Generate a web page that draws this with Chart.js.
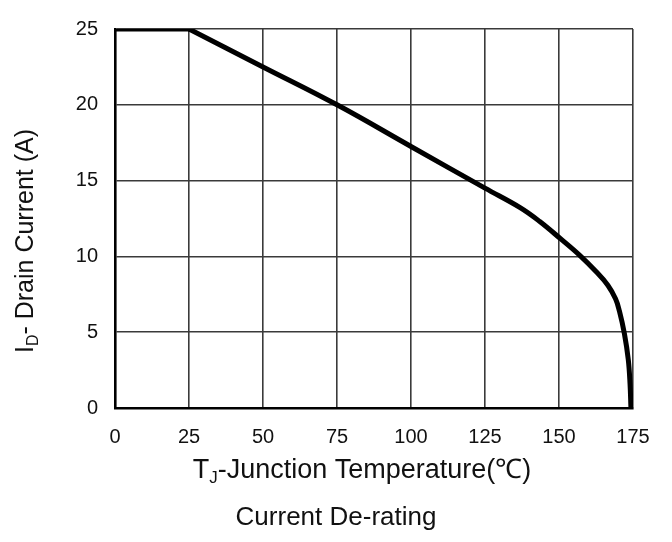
<!DOCTYPE html>
<html>
<head>
<meta charset="utf-8">
<title>Current De-rating</title>
<script src="https://cdn.jsdelivr.net/npm/chart.js@4.4.1/dist/chart.umd.min.js"></script>
<style>
  html, body { margin: 0; padding: 0; background: #fff; }
  #wrap { width: 672px; height: 542px; }
</style>
</head>
<body>
<div id="wrap"><canvas id="derating" width="672" height="542"></canvas></div>
<script>
// flat part: rated current up to 25 °C
const flatTemp = [0, 25];
const flatCurrent = [25, 25];

// de-rating curve
const curveTemp = [25, 50, 75, 100, 125, 137, 143.5, 150.6, 157.1, 162.5, 166.5, 169.1, 170.4, 172.1, 173.4, 174.0, 174.3];
const curveCurrent = [25, 22.5, 20.0, 17.25, 14.5, 13.2, 12.3, 11.15, 10.05, 9.0, 8.1, 7.2, 6.4, 4.9, 3.2, 1.6, 0];

const xTicks = [0, 25, 50, 75, 100, 125, 150, 175];
const yTicks = [0, 5, 10, 15, 20, 25];

const FONT = 'Arial, "Liberation Sans", sans-serif';

const toPoints = (xs, ys) => xs.map((x, i) => ({ x: x, y: ys[i] }));

// draws "main" + subscript + "rest" centred on (0,0) of the current transform
function drawSubText(ctx, main, sub, rest, size) {
    const subSize = Math.round(size * 0.62);
    ctx.font = size + 'px ' + FONT;
    const w1 = ctx.measureText(main).width;
    const w3 = ctx.measureText(rest).width;
    ctx.font = subSize + 'px ' + FONT;
    const w2 = ctx.measureText(sub).width;
    let x = -(w1 + w2 + w3) / 2;
    ctx.textAlign = 'left';
    ctx.textBaseline = 'alphabetic';
    ctx.font = size + 'px ' + FONT;
    ctx.fillText(main, x, 0);
    x += w1;
    ctx.font = subSize + 'px ' + FONT;
    ctx.fillText(sub, x, size * 0.2);
    x += w2;
    ctx.font = size + 'px ' + FONT;
    ctx.fillText(rest, x, 0);
}

const titlesPlugin = {
    id: 'titles',
    afterDraw(chart) {
        const ctx = chart.ctx;
        ctx.save();
        ctx.fillStyle = '#111';

        // y axis title, rotated
        ctx.save();
        ctx.translate(33, 241);
        ctx.rotate(-Math.PI / 2);
        drawSubText(ctx, 'I', 'D', '- Drain Current (A)', 25);
        ctx.restore();

        // x axis title
        ctx.save();
        ctx.translate(362, 478);
        drawSubText(ctx, 'T', 'J', '-Junction Temperature(\u2103)', 27);
        ctx.restore();

        // caption
        ctx.font = '26px ' + FONT;
        ctx.textAlign = 'center';
        ctx.textBaseline = 'alphabetic';
        ctx.fillText('Current De-rating', 336, 525);

        ctx.restore();
    }
};

document.addEventListener('DOMContentLoaded', () => {
    const ctx = document.getElementById('derating').getContext('2d');

    new Chart(ctx, {
        type: 'line',
        data: {
            datasets: [
                {
                    label: 'flat',
                    data: toPoints(flatTemp, flatCurrent),
                    borderColor: '#000',
                    borderWidth: 5,
                    pointRadius: 0,
                    borderCapStyle: 'butt',
                    fill: false
                },
                {
                    label: 'derating',
                    data: toPoints(curveTemp, curveCurrent),
                    borderColor: '#000',
                    borderWidth: 5,
                    pointRadius: 0,
                    tension: 0.4,
                    fill: false
                }
            ]
        },
        options: {
            responsive: false,
            animation: false,
            events: [],
            layout: { padding: { left: 0, top: 12, right: 39, bottom: 0 } },
            plugins: {
                legend: { display: false },
                tooltip: { enabled: false }
            },
            scales: {
                x: {
                    type: 'linear',
                    min: 0,
                    max: 175,
                    afterBuildTicks: s => { s.ticks = xTicks.map(v => ({ value: v })); },
                    afterFit: s => { s.height = 134; },
                    grid: { color: '#3a3a3a', lineWidth: 1.6, drawTicks: false },
                    border: { color: '#000', width: 2.6 },
                    ticks: { color: '#111', padding: 17, maxRotation: 0, font: { family: FONT, size: 20 } }
                },
                y: {
                    type: 'linear',
                    min: 0,
                    max: 25,
                    afterBuildTicks: s => { s.ticks = yTicks.map(v => ({ value: v })); },
                    afterFit: s => { s.width = 115; },
                    grid: { color: '#3a3a3a', lineWidth: 1.6, drawTicks: false },
                    border: { color: '#000', width: 2.6 },
                    ticks: { color: '#111', padding: 17, font: { family: FONT, size: 20 } }
                }
            }
        },
        plugins: [titlesPlugin]
    });
});
</script>
</body>
</html>
